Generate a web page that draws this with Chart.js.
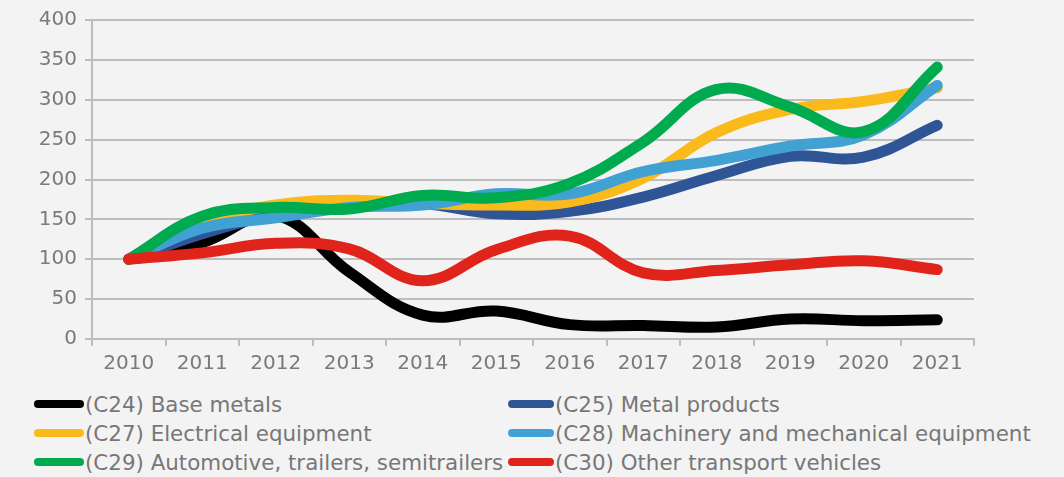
<!DOCTYPE html>
<html>
<head>
<meta charset="utf-8">
<script src="https://cdn.jsdelivr.net/npm/chart.js@4.4.1/dist/chart.umd.min.js"></script>
<style>
  body { margin: 0; background: #f3f3f3; font-family: "DejaVu Sans", sans-serif; }
  #wrap { position: relative; width: 1064px; height: 477px; overflow: hidden; }
  #myChart { position: absolute; left: 0; top: 0; }
  .item { position: absolute; height: 30px; display: flex; align-items: center; font-size: 21.4px; color: #777; white-space: nowrap; }
  .mark { display: inline-block; height: 8px; border-radius: 4px; margin-right: 1px; }
</style>
</head>
<body>
<div id="wrap">
  <canvas id="myChart" width="1064" height="385"></canvas>
  <div id="legend"></div>
</div>
<script>
const years = ["2010", "2011", "2012", "2013", "2014", "2015", "2016", "2017", "2018", "2019", "2020", "2021"];
const yTicks = [0, 50, 100, 150, 200, 250, 300, 350, 400];

const baseMetals = [100, 121, 155, 84, 30, 35, 18, 17, 15, 25, 23, 24];
const metalProducts = [100, 132, 157, 170, 170, 157, 160, 178, 205, 229, 228, 268];
const electrical = [100, 145, 168, 174, 170, 168, 172, 202, 259, 288, 298, 315];
const machinery = [100, 139, 152, 165, 168, 182, 182, 210, 224, 242, 256, 318];
const automotive = [100, 154, 165, 163, 180, 177, 195, 247, 313, 291, 260, 341];
const otherTransport = [100, 108, 120, 113, 73, 112, 129, 83, 86, 93, 98, 87];

// legend order, plus draw order (lower = on top)
const series = [
  { label: "(C24) Base metals", data: baseMetals, color: "#000000", order: 5 },
  { label: "(C25) Metal products", data: metalProducts, color: "#2f5597", order: 4 },
  { label: "(C27) Electrical equipment", data: electrical, color: "#fbba1c", order: 3 },
  { label: "(C28) Machinery and mechanical equipment", data: machinery, color: "#41a1d3", order: 2 },
  { label: "(C29) Automotive, trailers, semitrailers", data: automotive, color: "#00aa4f", order: 1 },
  { label: "(C30) Other transport vehicles", data: otherTransport, color: "#e0231b", order: 0 }
];

const tickColor = "#7a7a7a";
const gridColor = "#bdbdbd";

const ctx = document.getElementById("myChart").getContext("2d");
const myChart = new Chart(ctx, {
  type: "line",
  data: {
    labels: years,
    datasets: series.map(s => ({
      label: s.label,
      data: s.data,
      borderColor: s.color,
      backgroundColor: s.color,
      borderWidth: 11,
      borderCapStyle: "round",
      borderJoinStyle: "round",
      pointRadius: 0,
      tension: 0.4,
      order: s.order
    }))
  },
  options: {
    responsive: false,
    animation: false,
    devicePixelRatio: 1,
    layout: { padding: { top: 20, right: 90, left: 0, bottom: 0 } },
    plugins: { legend: { display: false }, tooltip: { enabled: false } },
    scales: {
      x: {
        offset: true,
        grid: { offset: true, drawOnChartArea: false, drawTicks: true, tickLength: 7, color: gridColor, lineWidth: 2 },
        border: { color: gridColor, width: 2 },
        ticks: { color: tickColor, font: { family: "DejaVu Sans", size: 20 }, padding: 6, maxRotation: 0 },
        afterFit: s => { s.height = 46; }
      },
      y: {
        min: 0,
        max: 400,
        afterBuildTicks: s => { s.ticks = yTicks.map(v => ({ value: v })); },
        grid: { color: gridColor, lineWidth: 2, tickLength: 7 },
        border: { color: gridColor, width: 2 },
        ticks: { color: tickColor, font: { family: "DejaVu Sans", size: 20 }, padding: 8 },
        afterFit: s => { s.width = 92; }
      }
    }
  }
});

// legend in two columns, like the original
const legendBox = document.getElementById("legend");
const colX = [34, 508];
const rowY = [389, 418, 447];
series.forEach((s, i) => {
  const item = document.createElement("div");
  item.className = "item";
  item.style.left = colX[i % 2] + "px";
  item.style.top = rowY[Math.floor(i / 2)] + "px";
  const mark = document.createElement("span");
  mark.className = "mark";
  mark.style.width = (i % 2 ? 46 : 50) + "px";
  mark.style.background = s.color;
  item.appendChild(mark);
  item.appendChild(document.createTextNode(s.label));
  legendBox.appendChild(item);
});
</script>
</body>
</html>
